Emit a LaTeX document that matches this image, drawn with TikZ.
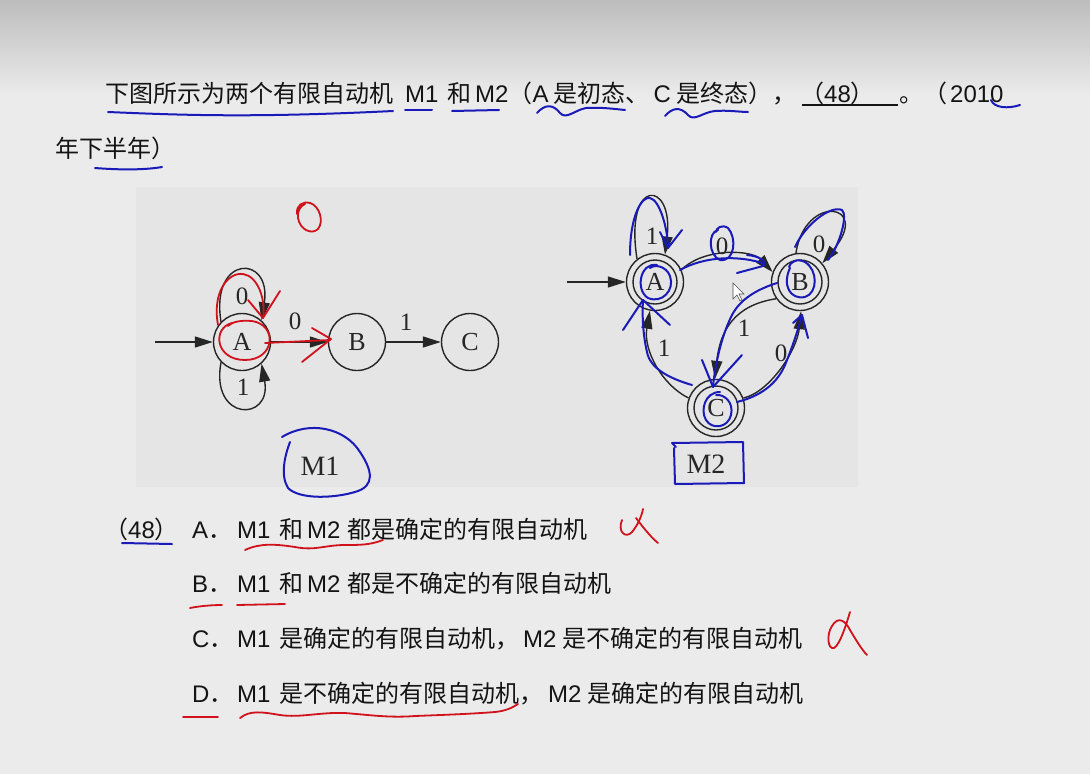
\documentclass[tikz,border=0pt]{standalone}
\usepackage{fontspec}
\setmainfont{Noto Sans CJK SC}
\newfontfamily\lat{Liberation Sans}
\newfontfamily\figf{Liberation Serif}
\usetikzlibrary{arrows.meta}
\definecolor{bgc}{HTML}{EBEBEB}
\definecolor{topc}{HTML}{BDBDBD}
\definecolor{panelc}{HTML}{E5E5E5}
\definecolor{textc}{HTML}{141414}
\definecolor{figc}{HTML}{262626}
\definecolor{redpen}{HTML}{D0121C}
\definecolor{bluepen}{HTML}{1A1AB8}
\tikzset{
  txt/.style={anchor=base west, inner sep=0pt, text=textc, font=\fontsize{24}{28}\selectfont},
  state/.style={circle, draw=figc, line width=1.4pt, minimum size=57pt, inner sep=0pt, text=figc, font=\figf\fontsize{26}{26}\selectfont},
  ring/.style={draw=figc, line width=1.4pt},
  lab/.style={inner sep=0pt, text=figc, font=\figf\fontsize{25}{25}\selectfont},
  mlab/.style={inner sep=0pt, text=figc, font=\figf\fontsize{28}{28}\selectfont},
  edge/.style={draw=figc, line width=1.4pt, -{Triangle[length=18pt,width=11pt]}},
  rpen/.style={draw=redpen, line width=1.8pt, line cap=round, line join=round},
  bpen/.style={draw=bluepen, line width=2pt, line cap=round, line join=round},
}
\begin{document}
\begin{tikzpicture}[x=1pt,y=-1pt]
\useasboundingbox (0,0) rectangle (1090,774);
\fill[bgc] (0,0) rectangle (1090,774);
\shade[top color=topc, bottom color=bgc] (0,0) rectangle (1090,95);
\fill[panelc] (136,187) rectangle (858,487);

% ---------- question text ----------
\node[txt] (q1) at (105,102) {下图所示为两个有限自动机};
\node[txt] (q2) at (405,102) {\lat M1};
\node[txt] (q3) at (447,102) {和};
\node[txt] (q4) at (475,102) {{\lat M2}（{\lat A}\hspace{5pt}是初态、\hspace{4pt}{\lat C}\hspace{6pt}是终态），};
\node[txt] (q11) at (800,102) {（{\lat 48}）};
\node[txt] (q12) at (899,102) {。（\hspace{3pt}{\lat 2010}};
\node[txt] (q15) at (55,157) {年下半年）};
\coordinate (ul1) at (802,105);
\coordinate (ul2) at (898,105);
\draw[textc, line width=1.5pt] (ul1) -- (ul2);

% ---------- options ----------
\node[txt] (o0) at (104,538) {（{\lat 48}）};
\node[txt] (oa1) at (192,538) {{\lat A}．};
\node[txt] (oa2) at (237,538) {\lat M1};
\node[txt] (oa3) at (279,538) {和};
\node[txt] (oa4) at (307,538) {\lat M2};
\node[txt] (oa5) at (347,538) {都是确定的有限自动机};
\node[txt] (ob1) at (192,592) {{\lat B}．};
\node[txt] (ob2) at (237,592) {\lat M1};
\node[txt] (ob3) at (279,592) {和};
\node[txt] (ob4) at (307,592) {\lat M2};
\node[txt] (ob5) at (347,592) {都是不确定的有限自动机};
\node[txt] (oc1) at (192,647) {{\lat C}．};
\node[txt] (oc2) at (237,647) {\lat M1};
\node[txt] (oc3) at (279,647) {是确定的有限自动机，};
\node[txt] (oc4) at (523,647) {\lat M2};
\node[txt] (oc5) at (562,647) {是不确定的有限自动机};
\node[txt] (od1) at (192,702) {{\lat D}．};
\node[txt] (od2) at (237,702) {\lat M1};
\node[txt] (od3) at (279,702) {是不确定的有限自动机，};
\node[txt] (od4) at (548,702) {\lat M2};
\node[txt] (od5) at (587,702) {是确定的有限自动机};

% ---------- M1 ----------
\coordinate (s1) at (155,342);
\node[state] (A1) at (242,342) {A};
\node[state] (B1) at (357,342) {B};
\node[state] (C1) at (470,342) {C};
\draw[edge] (s1) -- (A1);
\draw[edge] (A1) -- (B1);
\draw[edge] (B1) -- (C1);
\draw[edge] (A1.136) .. controls (210,254) and (272,254) .. (A1.48);
\draw[edge] (A1.-136) .. controls (210,422) and (272,422) .. (A1.-48);
\node[lab] (m1l1) at (295,321) {0};
\node[lab] (m1l2) at (406,322) {1};
\node[lab] (m1l3) at (242,296) {0};
\node[lab] (m1l4) at (243,387) {1};
\node[mlab] (M1) at (320,466) {M1};

% ---------- M2 ----------
\coordinate (s2) at (567,282);
\node[state] (A2) at (655,282) {A};
\node[state] (B2) at (800,282) {B};
\node[state] (C2) at (716,408) {C};
\draw[ring] (A2.center) circle (22);
\draw[ring] (B2.center) circle (22);
\draw[ring] (C2.center) circle (22);
\draw[edge] (s2) -- (A2);
\draw[edge] (A2.128) .. controls (624,176) and (674,180) .. (A2.70);
\draw[edge] (A2.25) .. controls (705,247) and (752,250) .. (B2.160);
\draw[edge] (B2.98) .. controls (805,193) and (872,203) .. (B2.40);
\draw[edge] (B2.215) .. controls (735,305) and (720,330) .. (C2.92);
\draw[edge] (C2.20) .. controls (770,392) and (797,350) .. (B2.-88);
\draw[edge] (C2.160) .. controls (662,385) and (643,350) .. (A2.-100);
\node[lab] (m2l1) at (652,236) {1};
\node[lab] (m2l2) at (722,246) {0};
\node[lab] (m2l3) at (819,244) {0};
\node[lab] (m2l4) at (744,328) {1};
\node[lab] (m2l5) at (781,353) {0};
\node[lab] (m2l6) at (664,348) {1};
\node[mlab] (M2) at (706,464) {M2};

% cursor
\draw[fill=white, draw=black!70, line width=0.6pt] (733,283) -- (733,299) -- (737,295) -- (740,301) -- (742,300) -- (739,294) -- (744,294) -- cycle;

% ---------- blue pen annotations ----------
\draw[bpen] (108,112) .. controls (180,115) and (250,118) .. (393,111);
\draw[bpen] (405,110) -- (432,110);
\draw[bpen] (452,111) -- (499,110);
\draw[bpen] (537,113) .. controls (545,104) and (553,104) .. (560,113) .. controls (566,120) and (575,110) .. (586,108) .. controls (600,107) and (615,109) .. (625,110);
\draw[bpen] (665,116) .. controls (672,108) and (680,106) .. (688,115) .. controls (694,122) and (703,112) .. (715,111) .. controls (728,110) and (740,112) .. (748,112);
\draw[bpen] (991,100) .. controls (994,108) and (1008,109) .. (1020,105);
\draw[bpen] (95,168) .. controls (120,170) and (145,170) .. (162,167);
\draw[bpen] (122,543) -- (172,544);
% M1 hoop
\draw[bpen] (282,437) .. controls (310,420) and (345,428) .. (360,452) .. controls (372,470) and (376,486) .. (355,492) .. controls (335,498) and (300,500) .. (288,488) .. controls (280,475) and (285,455) .. (290,442);
% M2 box
\draw[bpen] (676,447) -- (672,443) -- (743,442) -- (744,483) -- (675,484) -- (674,448);
% M2 traces
\draw[bpen] (630,255) .. controls (630,215) and (642,196) .. (650,198) .. controls (660,200) and (668,230) .. (668,248);
\draw[bpen] (660,232) -- (668,248) -- (682,230);
\draw[bpen] (657,265) .. controls (640,262) and (635,290) .. (648,298) .. controls (662,304) and (675,290) .. (670,276) .. controls (666,266) and (655,264) .. (650,268);
\draw[bpen] (680,270) .. controls (705,256) and (740,255) .. (765,264);
\draw[bpen] (747,255) .. controls (760,256) and (768,262) .. (763,266) -- (737,273);
\draw[bpen] (718,230) .. controls (708,232) and (708,255) .. (720,260) .. controls (735,262) and (737,238) .. (728,228) .. controls (722,224) and (716,228) .. (716,232);
\draw[bpen] (790,268) .. controls (782,285) and (790,300) .. (805,297) .. controls (818,293) and (818,270) .. (805,262) .. controls (797,258) and (790,262) .. (789,267);
\draw[bpen] (795,247) .. controls (805,225) and (830,205) .. (842,210) .. controls (848,215) and (840,245) .. (828,260);
\draw[bpen] (777,283) .. controls (755,290) and (740,300) .. (732,315) .. controls (722,335) and (716,360) .. (713,386);
\draw[bpen] (702,360) -- (713,387) -- (742,355);
\draw[bpen] (720,392) .. controls (705,392) and (700,410) .. (706,420) .. controls (712,430) and (728,428) .. (731,415) .. controls (734,402) and (724,394) .. (716,395);
\draw[bpen] (737,402) .. controls (765,395) and (780,380) .. (787,360) .. controls (793,345) and (798,330) .. (802,315);
\draw[bpen] (793,323) -- (802,315) -- (808,338);
\draw[bpen] (692,385) .. controls (668,378) and (650,368) .. (647,352) .. controls (643,335) and (642,315) .. (643,300);
\draw[bpen] (623,330) -- (643,300) -- (670,325);

% ---------- red pen annotations ----------
\draw[rpen] (297,214) .. controls (296,205) and (303,201) .. (310,203) .. controls (320,206) and (324,222) .. (318,229) .. controls (312,235) and (300,230) .. (298,218) .. controls (297,212) and (300,206) .. (305,204);
\draw[rpen] (218,325) .. controls (212,292) and (228,272) .. (243,274) .. controls (258,276) and (266,300) .. (263,318);
\draw[rpen] (248,300) -- (263,318) -- (280,291);
\draw[rpen] (232,323) .. controls (212,328) and (215,360) .. (245,360) .. controls (275,360) and (278,325) .. (252,321) .. controls (240,320) and (232,322) .. (228,326);
\draw[rpen] (265,343) -- (330,340);
\draw[rpen] (312,328) -- (331,339) -- (302,362);
% alpha marks
\draw[rpen] (622,520) .. controls (617,532) and (626,539) .. (632,532) .. controls (638,525) and (642,515) .. (643,509);
\draw[rpen] (636,518) .. controls (645,530) and (652,538) .. (658,543);
\draw[rpen] (850,612) .. controls (847,622) and (840,645) .. (834,648) .. controls (828,650) and (826,635) .. (832,626) .. controls (838,616) and (845,620) .. (850,630) .. controls (856,640) and (862,650) .. (867,655);
% underlines
\draw[rpen] (245,550) .. controls (260,543) and (275,544) .. (295,547) .. controls (315,551) and (325,545) .. (345,545) .. controls (360,545) and (370,545) .. (383,540);
\draw[rpen] (190,608) .. controls (200,606) and (212,605) .. (222,605);
\draw[rpen] (237,605) -- (285,604);
\draw[rpen] (183,717) -- (218,717);
\draw[rpen] (240,718) .. controls (250,710) and (262,712) .. (280,715) .. controls (300,718) and (320,712) .. (345,713) .. controls (370,715) and (390,718) .. (415,716) .. controls (440,715) and (470,714) .. (495,712) .. controls (505,711) and (512,708) .. (518,704);
\end{tikzpicture}
\end{document}
